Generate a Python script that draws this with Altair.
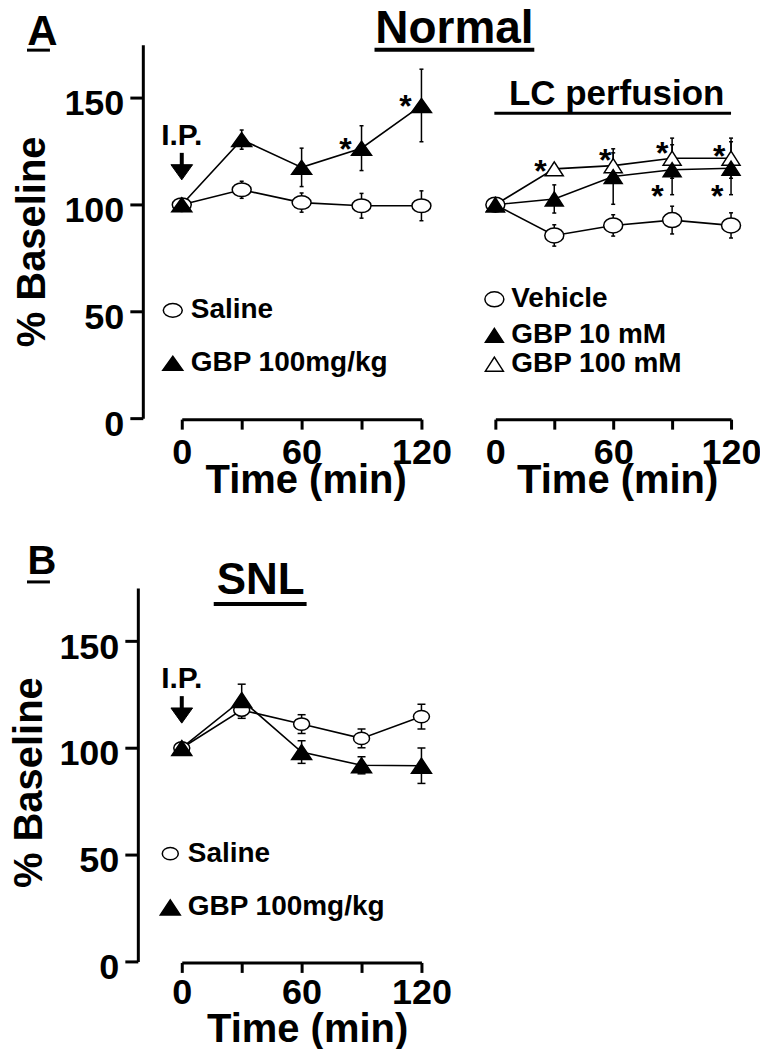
import altair as alt
import pandas as pd

FONT = "Liberation Sans"

# ---------------- data ----------------
time_min = [0, 30, 60, 90, 120]
x_tick_values = [0, 30, 60, 90, 120]
y_tick_values = [0, 50, 100, 150]

# Panel A (Normal) - I.P. injection
ip_series = ["Saline", "GBP 100mg/kg"]
ip_saline_mean = [100, 107, 101, 99.5, 99.5]
ip_saline_sem = [0, 4, 4.5, 5.8, 7]
ip_gbp_mean = [100, 130.5, 117.5, 126.5, 146.5]
ip_gbp_sem = [0, 4.5, 9, 10.5, 17]
ip_star_t = [82, 112]
ip_star_v = [129.5, 149.3]

# Panel A (Normal) - LC perfusion
lc_series = ["Vehicle", "GBP 10 mM", "GBP 100 mM"]
lc_vehicle_mean = [100, 85.6, 90.3, 92.8, 90.3]
lc_vehicle_sem = [0, 5, 5, 6.5, 5.9]
lc_gbp10_mean = [100, 102.7, 113.2, 116.4, 117.1]
lc_gbp10_sem = [0, 6.6, 13, 11.7, 12.4]
lc_gbp100_mean = [100, 116.8, 118.3, 121.8, 121.8]
lc_gbp100_sem = [0, 2, 6, 9.4, 9.4]
lc_star_t = [23, 56, 85, 114, 82.5, 113]
lc_star_v = [119.3, 124, 127.3, 126.3, 107.2, 107.2]

# Panel B (SNL) - I.P. injection
snl_series = ["Saline", "GBP 100mg/kg"]
snl_saline_mean = [100, 117.8, 111.2, 104.5, 114.7]
snl_saline_sem = [0, 3.9, 4.4, 4.4, 5.8]
snl_gbp_mean = [100, 122.5, 98.1, 91.9, 91.7]
snl_gbp_sem = [0, 7.4, 5.3, 4, 8.3]

ip_label_t = [0]
ip_label_v = [128.1]
arrow_top_v = [124.3]
arrow_bottom_v = [116]
arrow_head_v = [115.2]


# ---------------- shapes ----------------
def ellipse(rx, ry):
    k = 0.5523
    return (f"M {-rx} 0 C {-rx} {-ry*k:.4f} {-rx*k:.4f} {-ry} 0 {-ry} "
            f"C {rx*k:.4f} {-ry} {rx} {-ry*k:.4f} {rx} 0 "
            f"C {rx} {ry*k:.4f} {rx*k:.4f} {ry} 0 {ry} "
            f"C {-rx*k:.4f} {ry} {-rx} {ry*k:.4f} {-rx} 0 Z")


def tri_up(hw, hh):
    return f"M 0 {-hh} L {hw} {hh} L {-hw} {hh} Z"


TRI_DOWN = "M -1 -0.7 L 1 -0.7 L 0 0.7 Z"


def make_df(names, means, sems):
    rows = []
    for name, m, s in zip(names, means, sems):
        for t, mv, sv in zip(time_min, m, s):
            rows.append({"t": t, "v": mv, "lo": mv - sv, "hi": mv + sv, "series": name})
    return pd.DataFrame(rows)


one = pd.DataFrame({"k": [0]})


def text_value(text, x, y, size):
    return alt.Chart(one).mark_text(
        text=text, font=FONT, fontSize=size, fontWeight="bold", color="black",
        align="center", baseline="alphabetic"
    ).encode(x=alt.value(x), y=alt.value(y))


def hline(x1, x2, y, w):
    return alt.Chart(one).mark_rule(color="black", strokeWidth=w).encode(
        x=alt.value(x1), x2=alt.value(x2), y=alt.value(y))


def x_axis(title_x, title_y, label_pad):
    return alt.Axis(
        values=x_tick_values,
        labelExpr="datum.value % 60 === 0 ? datum.label : ''",
        title="Time (min)", grid=False, offset=1,
        tickSize=10, tickWidth=3, tickColor="black",
        domainWidth=3, domainColor="black",
        labelFont=FONT, labelFontSize=36, labelFontWeight="bold", labelColor="black",
        labelBaseline="alphabetic", labelPadding=label_pad, labelFlush=False, labelOverlap=False,
        titleFont=FONT, titleFontSize=40, titleFontWeight="bold", titleColor="black",
        titleBaseline="alphabetic", titleAlign="center", titleX=title_x, titleY=title_y,
    )


def y_axis(offset, title_x, title_y):
    return alt.Axis(
        values=y_tick_values, title="% Baseline", grid=False, offset=offset,
        tickSize=13, tickWidth=3, tickColor="black",
        domainWidth=3, domainColor="black",
        labelFont=FONT, labelFontSize=36, labelFontWeight="bold", labelColor="black",
        labelBaseline="alphabetic", labelOffset=17, labelPadding=6, labelFlush=False,
        titleFont=FONT, titleFontSize=40, titleFontWeight="bold", titleColor="black",
        titleAngle=-90, titleBaseline="alphabetic", titleAlign="center",
        titleX=title_x, titleY=title_y,
    )


def panel(df, order, shapes, fills, xaxis, yaxis, stars, cap, width,
          leg_sym_t, leg_text_t, leg_v, annotations, ip=True):
    xs = alt.Scale(domain=[0, 120], nice=False, zero=False)
    ys = alt.Scale(domain=[0, 175], nice=False, zero=False)
    X = alt.X("t:Q", scale=xs, axis=xaxis)

    def Y(field):
        return alt.Y(field, scale=ys, axis=yaxis)

    shape_enc = alt.Shape("series:N", scale=alt.Scale(domain=order, range=shapes), legend=None)
    fill_enc = alt.Fill("series:N", scale=alt.Scale(domain=order, range=fills), legend=None)

    layers = []
    layers.append(alt.Chart(df).mark_rule(color="black", strokeWidth=1.5).encode(
        x=X, y=Y("lo:Q"), y2="hi:Q"))
    for f in ["lo:Q", "hi:Q"]:
        layers.append(alt.Chart(df).mark_tick(
            color="black", thickness=1.5, size=cap, orient="horizontal", opacity=1
        ).encode(x=X, y=Y(f)))
    layers.append(alt.Chart(df).mark_line(color="black", strokeWidth=1.6).encode(
        x=X, y=Y("v:Q"), detail="series:N"))
    layers.append(alt.Chart(df).mark_point(
        filled=True, stroke="black", strokeWidth=1.5, opacity=1, size=400
    ).encode(x=X, y=Y("v:Q"), shape=shape_enc, fill=fill_enc))

    # in-plot legend (symbols use the same shape / fill scales)
    leg = pd.DataFrame({"series": order, "t": [leg_sym_t] * len(order),
                        "tt": [leg_text_t] * len(order), "v": leg_v})
    layers.append(alt.Chart(leg).mark_point(
        filled=True, stroke="black", strokeWidth=1.5, opacity=1, size=400
    ).encode(x=X, y=Y("v:Q"), shape=shape_enc, fill=fill_enc))
    layers.append(alt.Chart(leg).mark_text(
        font=FONT, fontSize=28, fontWeight="bold", color="black",
        align="left", baseline="middle"
    ).encode(x=alt.X("tt:Q", scale=xs, axis=xaxis), y=Y("v:Q"), text="series:N"))

    star_df = pd.DataFrame({"t": stars[0], "v": stars[1]})
    layers.append(alt.Chart(star_df).mark_text(
        text="*", font=FONT, fontSize=32, fontWeight="bold", color="black",
        align="center", baseline="alphabetic", dy=18).encode(x=X, y=Y("v:Q")))
    if ip:
        lab = pd.DataFrame({"t": ip_label_t, "v": ip_label_v})
        layers.append(alt.Chart(lab).mark_text(
            text="I.P.", font=FONT, fontSize=30, fontWeight="bold", color="black",
            align="center", baseline="alphabetic").encode(x=X, y=Y("v:Q")))
        arr = pd.DataFrame({"t": ip_label_t, "v1": arrow_top_v, "v2": arrow_bottom_v})
        layers.append(alt.Chart(arr).mark_rule(color="black", strokeWidth=4).encode(
            x=X, y=Y("v1:Q"), y2="v2:Q"))
        head = pd.DataFrame({"t": ip_label_t, "v": arrow_head_v})
        layers.append(alt.Chart(head).mark_point(
            shape=TRI_DOWN, filled=True, fill="black", stroke="black", strokeWidth=1,
            size=470, opacity=1).encode(x=X, y=Y("v:Q")))
    layers.extend(annotations)
    return alt.layer(*layers).properties(width=width, height=374)


# ---- A left ----
df_ip = make_df(ip_series, [ip_saline_mean, ip_gbp_mean], [ip_saline_sem, ip_gbp_sem])
left = panel(
    df_ip, ip_series, [ellipse(0.95, 0.68), tri_up(1.0, 0.7)], ["white", "black"],
    x_axis(124, 73, 34), y_axis(39, -98, 197),
    (ip_star_t, ip_star_v), 4, 240,
    -4.5, 4.5, [50.5, 25.7],
    [
        text_value("A", -139.5, 0, 42),
        hline(-155, -132, 5.5, 3),
        text_value("Normal", 273, -2, 46),
        hline(193, 353, 5, 4),
    ],
)

# ---- A right ----
df_lc = make_df(
    [lc_series[2], lc_series[0], lc_series[1]],
    [lc_gbp100_mean, lc_vehicle_mean, lc_gbp10_mean],
    [lc_gbp100_sem, lc_vehicle_sem, lc_gbp10_sem],
)
right = panel(
    df_lc, lc_series, [ellipse(0.95, 0.75), tri_up(0.9, 0.7), tri_up(0.9, 0.7)],
    ["white", "black", "white"],
    x_axis(122, 73, 34), None,
    (lc_star_t, lc_star_v), 4, 236,
    -0.5, 8.1, [55.7, 38.8, 25.3],
    [
        text_value("LC perfusion", 121.5, 60, 35),
        hline(-1, 236, 68.7, 3),
    ],
    ip=False,
)

# ---- B ----
df_snl = make_df(snl_series, [snl_saline_mean, snl_gbp_mean], [snl_saline_sem, snl_gbp_sem])
bottom = panel(
    df_snl, snl_series, [ellipse(0.8, 0.62), tri_up(1.0, 0.75)], ["white", "black"],
    x_axis(125.5, 79, 31), y_axis(44, -96, 194.5),
    ([], []), 8, 240,
    -5.75, 3, [50.5, 25.3],
    [
        text_value("B", -140, -14, 40),
        hline(-155, -132, -6, 3),
        text_value("SNL", 79, 6, 44),
        hline(32, 125, 16, 4),
    ],
)

chart = alt.concat(
    left, right, bottom, columns=2, bounds="flush",
    spacing={"row": 170, "column": 74},
).resolve_scale(
    x="independent", y="independent", shape="independent", fill="independent"
).properties(
    padding={"left": 2, "top": -3, "right": -2, "bottom": 0}
).configure_view(strokeWidth=0)

chart.save("out.html", embed_options={"renderer": "svg", "actions": False})
